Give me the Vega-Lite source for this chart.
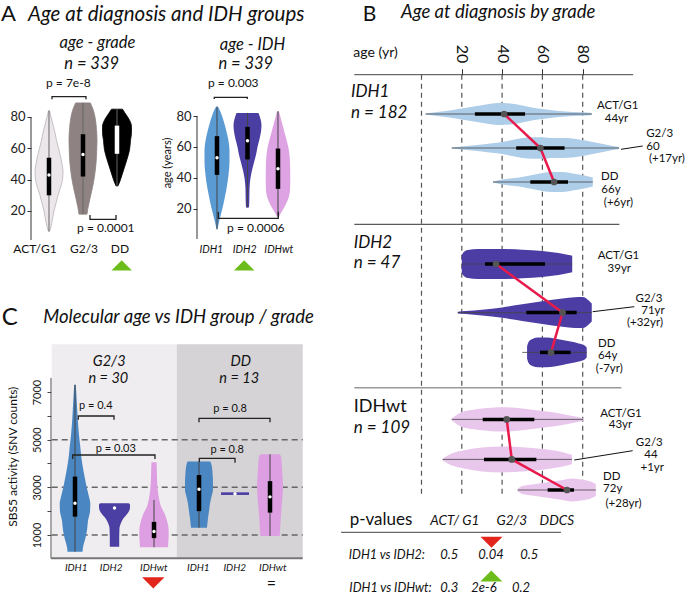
{
"$schema":"https://vega.github.io/schema/vega-lite/v6.json",
"padding":0,
"background":"#ffffff",
"spacing":0,
"bounds":"full",
"resolve":{"scale":{"fill":"independent","color":"independent","stroke":"independent"}},
"config":{"view":{"stroke":null},"axis":{"labelFont":"Lato","titleFont":"Lato"},"text":{"font":"Lato"}},
"datasets":{
"vA1":[
{"g":"ACT/G1","y":84,"lo":0.985,"hi":1.015},{"g":"ACT/G1","y":80,"lo":0.941,"hi":1.059},{"g":"ACT/G1","y":75,"lo":0.882,"hi":1.118},{"g":"ACT/G1","y":70,"lo":0.824,"hi":1.176},{"g":"ACT/G1","y":65,"lo":0.779,"hi":1.221},{"g":"ACT/G1","y":60,"lo":0.721,"hi":1.279},{"g":"ACT/G1","y":55,"lo":0.662,"hi":1.338},{"g":"ACT/G1","y":50,"lo":0.618,"hi":1.382},{"g":"ACT/G1","y":45,"lo":0.588,"hi":1.412},{"g":"ACT/G1","y":40,"lo":0.603,"hi":1.397},{"g":"ACT/G1","y":35,"lo":0.662,"hi":1.338},{"g":"ACT/G1","y":30,"lo":0.735,"hi":1.265},{"g":"ACT/G1","y":25,"lo":0.794,"hi":1.206},{"g":"ACT/G1","y":20,"lo":0.853,"hi":1.147},{"g":"ACT/G1","y":15,"lo":0.897,"hi":1.103},{"g":"ACT/G1","y":10,"lo":0.941,"hi":1.059},{"g":"ACT/G1","y":7,"lo":0.985,"hi":1.015},
{"g":"G2/3","y":89,"lo":1.785,"hi":2.215},{"g":"G2/3","y":85,"lo":1.706,"hi":2.294},{"g":"G2/3","y":80,"lo":1.647,"hi":2.353},{"g":"G2/3","y":72,"lo":1.603,"hi":2.397},{"g":"G2/3","y":65,"lo":1.588,"hi":2.412},{"g":"G2/3","y":58,"lo":1.597,"hi":2.403},{"g":"G2/3","y":50,"lo":1.618,"hi":2.382},{"g":"G2/3","y":43,"lo":1.656,"hi":2.344},{"g":"G2/3","y":35,"lo":1.721,"hi":2.279},{"g":"G2/3","y":28,"lo":1.794,"hi":2.206},{"g":"G2/3","y":22,"lo":1.853,"hi":2.147},{"g":"G2/3","y":18,"lo":1.882,"hi":2.118},
{"g":"DD","y":85,"lo":2.838,"hi":3.162},{"g":"DD","y":82,"lo":2.75,"hi":3.25},{"g":"DD","y":78,"lo":2.632,"hi":3.368},{"g":"DD","y":74,"lo":2.574,"hi":3.426},{"g":"DD","y":70,"lo":2.574,"hi":3.426},{"g":"DD","y":65,"lo":2.603,"hi":3.397},{"g":"DD","y":59,"lo":2.632,"hi":3.368},{"g":"DD","y":53,"lo":2.706,"hi":3.294},{"g":"DD","y":48,"lo":2.779,"hi":3.221},{"g":"DD","y":43,"lo":2.853,"hi":3.147},{"g":"DD","y":40,"lo":2.897,"hi":3.103},{"g":"DD","y":36,"lo":2.971,"hi":3.029}
],
"bA1":[
{"g":"ACT/G1","x":1,"mn":7,"q1":30,"md":43,"q3":54,"mx":84},
{"g":"G2/3","x":2,"mn":18,"q1":42,"md":56,"q3":69,"mx":89},
{"g":"DD","x":3,"mn":36,"q1":56.5,"md":65,"q3":74.5,"mx":85}
],
"vA2":[
{"g":"IDH1","y":86,"lo":0.967,"hi":1.033},{"g":"IDH1","y":82,"lo":0.869,"hi":1.131},{"g":"IDH1","y":76,"lo":0.77,"hi":1.23},{"g":"IDH1","y":70,"lo":0.689,"hi":1.311},{"g":"IDH1","y":64,"lo":0.623,"hi":1.377},{"g":"IDH1","y":58,"lo":0.59,"hi":1.41},{"g":"IDH1","y":50,"lo":0.59,"hi":1.41},{"g":"IDH1","y":42,"lo":0.623,"hi":1.377},{"g":"IDH1","y":35,"lo":0.672,"hi":1.328},{"g":"IDH1","y":28,"lo":0.738,"hi":1.262},{"g":"IDH1","y":22,"lo":0.803,"hi":1.197},{"g":"IDH1","y":18,"lo":0.852,"hi":1.148},{"g":"IDH1","y":14,"lo":0.902,"hi":1.098},{"g":"IDH1","y":10,"lo":0.951,"hi":1.049},{"g":"IDH1","y":7,"lo":0.984,"hi":1.016},
{"g":"IDH2","y":82,"lo":1.639,"hi":2.361},{"g":"IDH2","y":78,"lo":1.574,"hi":2.426},{"g":"IDH2","y":74,"lo":1.541,"hi":2.459},{"g":"IDH2","y":70,"lo":1.557,"hi":2.443},{"g":"IDH2","y":65,"lo":1.607,"hi":2.393},{"g":"IDH2","y":60,"lo":1.672,"hi":2.328},{"g":"IDH2","y":55,"lo":1.721,"hi":2.279},{"g":"IDH2","y":50,"lo":1.787,"hi":2.213},{"g":"IDH2","y":45,"lo":1.852,"hi":2.148},{"g":"IDH2","y":40,"lo":1.902,"hi":2.098},{"g":"IDH2","y":33,"lo":1.934,"hi":2.066},{"g":"IDH2","y":25,"lo":1.941,"hi":2.059},{"g":"IDH2","y":21,"lo":1.951,"hi":2.049},
{"g":"IDHwt","y":83,"lo":2.967,"hi":3.033},{"g":"IDHwt","y":78,"lo":2.902,"hi":3.098},{"g":"IDHwt","y":72,"lo":2.82,"hi":3.18},{"g":"IDHwt","y":66,"lo":2.738,"hi":3.262},{"g":"IDHwt","y":60,"lo":2.662,"hi":3.338},{"g":"IDHwt","y":55,"lo":2.623,"hi":3.377},{"g":"IDHwt","y":50,"lo":2.607,"hi":3.393},{"g":"IDHwt","y":40,"lo":2.597,"hi":3.403},{"g":"IDHwt","y":32,"lo":2.607,"hi":3.393},{"g":"IDHwt","y":27,"lo":2.656,"hi":3.344},{"g":"IDHwt","y":22,"lo":2.77,"hi":3.23},{"g":"IDHwt","y":18,"lo":2.885,"hi":3.115},{"g":"IDHwt","y":15,"lo":2.967,"hi":3.033}
],
"bA2":[
{"g":"IDH1","x":1,"mn":7,"q1":42,"md":53,"q3":67,"mx":86},
{"g":"IDH2","x":2,"mn":21,"q1":52,"md":64,"q3":73,"mx":82},
{"g":"IDHwt","x":3,"mn":15,"q1":33,"md":46,"q3":59,"mx":83}
],
"brA1":[
{"id":1,"o":1,"x":1.088,"y":91.3},{"id":1,"o":2,"x":1.088,"y":92.96},{"id":1,"o":3,"x":2.088,"y":92.96},{"id":1,"o":4,"x":2.088,"y":91.3},
{"id":2,"o":1,"x":2.206,"y":17.45},{"id":2,"o":2,"x":2.206,"y":14.7},{"id":2,"o":3,"x":2.971,"y":14.7},{"id":2,"o":4,"x":2.971,"y":17.45}
],
"brA2":[
{"id":1,"o":1,"x":0.911,"y":91.0},{"id":1,"o":2,"x":0.911,"y":92.06},{"id":1,"o":3,"x":1.993,"y":92.06},{"id":1,"o":4,"x":1.993,"y":91.0},
{"id":2,"o":1,"x":1.043,"y":18.3},{"id":2,"o":2,"x":1.043,"y":14.0},{"id":2,"o":3,"x":3.01,"y":14.0},{"id":2,"o":4,"x":3.01,"y":18.3}
],
"tA1":[
{"t":"A","x":-0.412,"y":141.3,"k":"L"},
{"t":"Age at diagnosis and IDH groups","x":0.382,"y":141.5,"k":"T"},
{"t":"age - grade","x":2.426,"y":123.85,"k":"S"},
{"t":"n = 339","x":2.255,"y":110.6,"k":"S"},
{"t":"p = 7e-8","x":1.569,"y":98.96,"k":"P"},
{"t":"p = 0.0001","x":2.672,"y":6.4,"k":"P"},
{"t":"ACT/G1","x":0.588,"y":-7.0,"k":"P"},
{"t":"G2/3","x":2.029,"y":-7.0,"k":"P"},
{"t":"DD","x":3.088,"y":-7.0,"k":"P"}
],
"tA2":[
{"t":"age - IDH","x":2.164,"y":122.6,"k":"S"},
{"t":"n = 339","x":1.945,"y":110.3,"k":"S"},
{"t":"p = 0.003","x":1.535,"y":98.5,"k":"P"},
{"t":"p = 0.0006","x":2.273,"y":4.97,"k":"P"},
{"t":"IDH1","x":0.813,"y":-8.6,"k":"X"},
{"t":"IDH2","x":1.908,"y":-8.6,"k":"X"},
{"t":"IDHwt","x":3.026,"y":-8.6,"k":"X"},
{"t":"age (years)","x":-0.607,"y":49.7,"k":"Y"}
],
"triA1":[{"x":3.138,"y":-14.7}],
"triA2":[{"x":1.892,"y":-16.3}],
"vC":[
{"v":"a1","g":"IDH1","y":7300,"lo":0.98,"hi":1.02},{"v":"a1","g":"IDH1","y":6800,"lo":0.962,"hi":1.038},{"v":"a1","g":"IDH1","y":6200,"lo":0.942,"hi":1.058},{"v":"a1","g":"IDH1","y":5700,"lo":0.924,"hi":1.076},{"v":"a1","g":"IDH1","y":5200,"lo":0.899,"hi":1.101},{"v":"a1","g":"IDH1","y":4700,"lo":0.866,"hi":1.134},{"v":"a1","g":"IDH1","y":4200,"lo":0.835,"hi":1.165},{"v":"a1","g":"IDH1","y":3800,"lo":0.797,"hi":1.203},{"v":"a1","g":"IDH1","y":3400,"lo":0.752,"hi":1.248},{"v":"a1","g":"IDH1","y":3000,"lo":0.704,"hi":1.296},{"v":"a1","g":"IDH1","y":2600,"lo":0.646,"hi":1.354},{"v":"a1","g":"IDH1","y":2300,"lo":0.613,"hi":1.387},{"v":"a1","g":"IDH1","y":2000,"lo":0.62,"hi":1.38},{"v":"a1","g":"IDH1","y":1600,"lo":0.671,"hi":1.329},{"v":"a1","g":"IDH1","y":1200,"lo":0.696,"hi":1.304},{"v":"a1","g":"IDH1","y":800,"lo":0.747,"hi":1.253},{"v":"a1","g":"IDH1","y":500,"lo":0.797,"hi":1.203},{"v":"a1","g":"IDH1","y":300,"lo":0.81,"hi":1.19},
{"v":"a2","g":"IDH2","y":2330,"lo":1.646,"hi":2.354},{"v":"a2","g":"IDH2","y":2280,"lo":1.608,"hi":2.392},{"v":"a2","g":"IDH2","y":2150,"lo":1.608,"hi":2.392},{"v":"a2","g":"IDH2","y":2000,"lo":1.633,"hi":2.367},{"v":"a2","g":"IDH2","y":1850,"lo":1.696,"hi":2.304},{"v":"a2","g":"IDH2","y":1750,"lo":1.747,"hi":2.253},{"v":"a2","g":"IDH2","y":1600,"lo":1.81,"hi":2.19},{"v":"a2","g":"IDH2","y":1450,"lo":1.848,"hi":2.152},{"v":"a2","g":"IDH2","y":1300,"lo":1.873,"hi":2.127},{"v":"a2","g":"IDH2","y":1100,"lo":1.878,"hi":2.122},{"v":"a2","g":"IDH2","y":800,"lo":1.881,"hi":2.119},{"v":"a2","g":"IDH2","y":510,"lo":1.881,"hi":2.119},
{"v":"a3","g":"IDHwt","y":4050,"lo":2.937,"hi":3.063},{"v":"a3","g":"IDHwt","y":3800,"lo":2.929,"hi":3.071},{"v":"a3","g":"IDHwt","y":3400,"lo":2.924,"hi":3.076},{"v":"a3","g":"IDHwt","y":3000,"lo":2.911,"hi":3.089},{"v":"a3","g":"IDHwt","y":2600,"lo":2.88,"hi":3.12},{"v":"a3","g":"IDHwt","y":2200,"lo":2.823,"hi":3.177},{"v":"a3","g":"IDHwt","y":1900,"lo":2.734,"hi":3.266},{"v":"a3","g":"IDHwt","y":1600,"lo":2.671,"hi":3.329},{"v":"a3","g":"IDHwt","y":1300,"lo":2.633,"hi":3.367},{"v":"a3","g":"IDHwt","y":1000,"lo":2.628,"hi":3.372},{"v":"a3","g":"IDHwt","y":700,"lo":2.638,"hi":3.362},{"v":"a3","g":"IDHwt","y":490,"lo":2.646,"hi":3.354},
{"v":"d1","g":"IDH1","y":4080,"lo":3.848,"hi":4.43},{"v":"d1","g":"IDH1","y":3900,"lo":3.815,"hi":4.463},{"v":"d1","g":"IDH1","y":3600,"lo":3.797,"hi":4.481},{"v":"d1","g":"IDH1","y":3200,"lo":3.785,"hi":4.493},{"v":"d1","g":"IDH1","y":2900,"lo":3.785,"hi":4.493},{"v":"d1","g":"IDH1","y":2600,"lo":3.823,"hi":4.455},{"v":"d1","g":"IDH1","y":2300,"lo":3.861,"hi":4.417},{"v":"d1","g":"IDH1","y":2000,"lo":3.886,"hi":4.392},{"v":"d1","g":"IDH1","y":1700,"lo":3.911,"hi":4.367},{"v":"d1","g":"IDH1","y":1300,"lo":3.936,"hi":4.342},
{"v":"d2","g":"IDH2","y":2680,"lo":4.697,"hi":5.405},{"v":"d2","g":"IDH2","y":2790,"lo":4.697,"hi":5.405},
{"v":"d3","g":"IDHwt","y":4390,"lo":5.696,"hi":6.178},{"v":"d3","g":"IDHwt","y":4300,"lo":5.659,"hi":6.215},{"v":"d3","g":"IDHwt","y":4000,"lo":5.641,"hi":6.233},{"v":"d3","g":"IDHwt","y":3500,"lo":5.621,"hi":6.253},{"v":"d3","g":"IDHwt","y":3000,"lo":5.608,"hi":6.266},{"v":"d3","g":"IDHwt","y":2600,"lo":5.621,"hi":6.253},{"v":"d3","g":"IDHwt","y":2200,"lo":5.641,"hi":6.233},{"v":"d3","g":"IDHwt","y":1800,"lo":5.659,"hi":6.215},{"v":"d3","g":"IDHwt","y":1400,"lo":5.676,"hi":6.198},{"v":"d3","g":"IDHwt","y":960,"lo":5.691,"hi":6.183}
],
"bC":[
{"v":"a1","x":1,"mn":300,"q1":1770,"md":2330,"q3":3450,"mx":7300},
{"v":"a2","x":2,"mn":2130,"q1":2130,"md":2130,"q3":2130,"mx":2130},
{"v":"a3","x":3,"mn":490,"q1":870,"md":1150,"q3":1550,"mx":2470},
{"v":"d1","x":4.139,"mn":1300,"q1":2000,"md":2917,"q3":3517,"mx":4080},
{"v":"d2","x":5.051,"mn":2735,"q1":2735,"md":2735,"q3":2735,"mx":2735},
{"v":"d3","x":5.937,"mn":960,"q1":1940,"md":2600,"q3":3260,"mx":4390}
],
"hC":[{"v":1000},{"v":3000},{"v":5000}],
"brC":[
{"id":1,"o":1,"x":1.084,"y":5838},{"id":1,"o":2,"x":1.084,"y":5993},{"id":1,"o":3,"x":1.987,"y":5993},{"id":1,"o":4,"x":1.987,"y":5838},
{"id":2,"o":1,"x":0.942,"y":4189},{"id":2,"o":2,"x":0.942,"y":4356},{"id":2,"o":3,"x":3.025,"y":4356},{"id":2,"o":4,"x":3.025,"y":4189},
{"id":3,"o":1,"x":4.139,"y":5728},{"id":3,"o":2,"x":4.139,"y":5896},{"id":3,"o":3,"x":5.937,"y":5896},{"id":3,"o":4,"x":5.937,"y":5728},
{"id":4,"o":1,"x":4.147,"y":4063},{"id":4,"o":2,"x":4.147,"y":4218},{"id":4,"o":3,"x":5.051,"y":4218},{"id":4,"o":4,"x":5.051,"y":4030}
],
"tC":[
{"t":"C","x":-0.856,"y":9811,"k":"L"},
{"t":"Molecular age vs IDH group / grade","x":0.197,"y":9883,"k":"T"},
{"t":"G2/3","x":1.866,"y":8080,"k":"S"},
{"t":"n = 30","x":1.844,"y":7390,"k":"S"},
{"t":"DD","x":5.198,"y":8080,"k":"S"},
{"t":"n = 13","x":5.157,"y":7390,"k":"S"},
{"t":"p = 0.4","x":1.527,"y":6287,"k":"P"},
{"t":"p = 0.03","x":2.033,"y":4495,"k":"P"},
{"t":"p = 0.8","x":4.924,"y":6148,"k":"P"},
{"t":"p = 0.8","x":4.853,"y":4453,"k":"P"},
{"t":"IDH1","x":1.03,"y":-498,"k":"X"},
{"t":"IDH2","x":1.916,"y":-498,"k":"X"},
{"t":"IDHwt","x":2.995,"y":-498,"k":"X"},
{"t":"IDH1","x":4.122,"y":-498,"k":"X"},
{"t":"IDH2","x":5.043,"y":-498,"k":"X"},
{"t":"IDHwt","x":6.008,"y":-498,"k":"X"},
{"t":"SBS5 activity (SNV counts)","x":-0.562,"y":4285,"k":"Y"},
{"t":"=","x":5.97,"y":-1040,"k":"E"}
],
"triC":[{"x":2.982,"y":-1006}],
"vB":[
{"v":"1A","g":"IDH1","a":2,"lo":56.75,"hi":57.25},{"v":"1A","g":"IDH1","a":8,"lo":56,"hi":58},{"v":"1A","g":"IDH1","a":14,"lo":55.25,"hi":58.75},{"v":"1A","g":"IDH1","a":20,"lo":54.25,"hi":59.75},{"v":"1A","g":"IDH1","a":26,"lo":53.25,"hi":60.75},{"v":"1A","g":"IDH1","a":32,"lo":52.25,"hi":61.75},{"v":"1A","g":"IDH1","a":38,"lo":51.5,"hi":62.5},{"v":"1A","g":"IDH1","a":44,"lo":51.75,"hi":62.25},{"v":"1A","g":"IDH1","a":50,"lo":52.75,"hi":61.25},{"v":"1A","g":"IDH1","a":56,"lo":54,"hi":60},{"v":"1A","g":"IDH1","a":62,"lo":54.75,"hi":59.25},{"v":"1A","g":"IDH1","a":68,"lo":55.5,"hi":58.5},{"v":"1A","g":"IDH1","a":75,"lo":56,"hi":58},{"v":"1A","g":"IDH1","a":82,"lo":56.25,"hi":57.75},{"v":"1A","g":"IDH1","a":84.5,"lo":56.5,"hi":57.5},
{"v":"1G","g":"IDH1","a":15,"lo":73.75,"hi":74.25},{"v":"1G","g":"IDH1","a":20,"lo":73.25,"hi":74.75},{"v":"1G","g":"IDH1","a":25,"lo":72.75,"hi":75.25},{"v":"1G","g":"IDH1","a":30,"lo":72.25,"hi":75.75},{"v":"1G","g":"IDH1","a":35,"lo":71.6,"hi":76.4},{"v":"1G","g":"IDH1","a":40,"lo":71,"hi":77},{"v":"1G","g":"IDH1","a":45,"lo":70,"hi":78},{"v":"1G","g":"IDH1","a":50,"lo":69,"hi":79},{"v":"1G","g":"IDH1","a":55,"lo":68.65,"hi":79.35},{"v":"1G","g":"IDH1","a":60,"lo":68.6,"hi":79.4},{"v":"1G","g":"IDH1","a":65,"lo":69,"hi":79},{"v":"1G","g":"IDH1","a":70,"lo":69,"hi":79},{"v":"1G","g":"IDH1","a":75,"lo":69.25,"hi":78.75},{"v":"1G","g":"IDH1","a":80,"lo":70,"hi":78},{"v":"1G","g":"IDH1","a":85,"lo":71,"hi":77},{"v":"1G","g":"IDH1","a":90,"lo":72,"hi":76},{"v":"1G","g":"IDH1","a":95,"lo":73,"hi":75},{"v":"1G","g":"IDH1","a":98,"lo":73.5,"hi":74.5},
{"v":"1D","g":"IDH1","a":35.5,"lo":90.75,"hi":91.25},{"v":"1D","g":"IDH1","a":40,"lo":89.75,"hi":92.25},{"v":"1D","g":"IDH1","a":45,"lo":89.1,"hi":92.9},{"v":"1D","g":"IDH1","a":50,"lo":88.5,"hi":93.5},{"v":"1D","g":"IDH1","a":55,"lo":87.5,"hi":94.5},{"v":"1D","g":"IDH1","a":60,"lo":86.5,"hi":95.5},{"v":"1D","g":"IDH1","a":65,"lo":86,"hi":96},{"v":"1D","g":"IDH1","a":70,"lo":86,"hi":96},{"v":"1D","g":"IDH1","a":75,"lo":86.75,"hi":95.25},{"v":"1D","g":"IDH1","a":80,"lo":87.6,"hi":94.4},{"v":"1D","g":"IDH1","a":83,"lo":88.25,"hi":93.75},{"v":"1D","g":"IDH1","a":85,"lo":88.75,"hi":93.25},
{"v":"2A","g":"IDH2","a":20,"lo":127.5,"hi":136.5},{"v":"2A","g":"IDH2","a":21,"lo":126,"hi":138},{"v":"2A","g":"IDH2","a":23,"lo":125,"hi":139},{"v":"2A","g":"IDH2","a":28,"lo":124.5,"hi":139.5},{"v":"2A","g":"IDH2","a":40,"lo":124.5,"hi":139.5},{"v":"2A","g":"IDH2","a":50,"lo":124.9,"hi":139.1},{"v":"2A","g":"IDH2","a":60,"lo":125.5,"hi":138.5},{"v":"2A","g":"IDH2","a":66,"lo":126.25,"hi":137.75},{"v":"2A","g":"IDH2","a":70,"lo":126.85,"hi":137.15},{"v":"2A","g":"IDH2","a":74.8,"lo":127.85,"hi":136.15},
{"v":"2G","g":"IDH2","a":18,"lo":155.9,"hi":156.7},{"v":"2G","g":"IDH2","a":22,"lo":155.55,"hi":157.05},{"v":"2G","g":"IDH2","a":30,"lo":154.9,"hi":157.7},{"v":"2G","g":"IDH2","a":40,"lo":153.7,"hi":158.9},{"v":"2G","g":"IDH2","a":50,"lo":152.15,"hi":160.45},{"v":"2G","g":"IDH2","a":60,"lo":150.65,"hi":161.95},{"v":"2G","g":"IDH2","a":70,"lo":149.2,"hi":163.4},{"v":"2G","g":"IDH2","a":76,"lo":148.65,"hi":163.95},{"v":"2G","g":"IDH2","a":80,"lo":148.55,"hi":164.05},{"v":"2G","g":"IDH2","a":83,"lo":150.3,"hi":162.3},{"v":"2G","g":"IDH2","a":84.5,"lo":151.8,"hi":160.8},
{"v":"2D","g":"IDH2","a":52.4,"lo":173.2,"hi":179.2},{"v":"2D","g":"IDH2","a":53,"lo":171.2,"hi":181.2},{"v":"2D","g":"IDH2","a":55,"lo":169.45,"hi":182.95},{"v":"2D","g":"IDH2","a":58,"lo":168.8,"hi":183.6},{"v":"2D","g":"IDH2","a":62,"lo":168.8,"hi":183.6},{"v":"2D","g":"IDH2","a":66,"lo":169.2,"hi":183.2},{"v":"2D","g":"IDH2","a":70,"lo":169.95,"hi":182.45},{"v":"2D","g":"IDH2","a":74,"lo":170.8,"hi":181.6},{"v":"2D","g":"IDH2","a":78,"lo":171.7,"hi":180.7},{"v":"2D","g":"IDH2","a":81,"lo":172.7,"hi":179.7},{"v":"2D","g":"IDH2","a":82,"lo":173.7,"hi":178.7},
{"v":"wA","g":"IDHwt","a":15,"lo":209.2,"hi":210.2},{"v":"wA","g":"IDHwt","a":17,"lo":207.7,"hi":211.7},{"v":"wA","g":"IDHwt","a":20,"lo":205.95,"hi":213.45},{"v":"wA","g":"IDHwt","a":25,"lo":204.95,"hi":214.45},{"v":"wA","g":"IDHwt","a":30,"lo":204.3,"hi":215.1},{"v":"wA","g":"IDHwt","a":40,"lo":203.6,"hi":215.8},{"v":"wA","g":"IDHwt","a":50,"lo":204.3,"hi":215.1},{"v":"wA","g":"IDHwt","a":60,"lo":205.55,"hi":213.85},{"v":"wA","g":"IDHwt","a":70,"lo":206.95,"hi":212.45},{"v":"wA","g":"IDHwt","a":75,"lo":207.95,"hi":211.45},{"v":"wA","g":"IDHwt","a":80,"lo":208.95,"hi":210.45},
{"v":"wG","g":"IDHwt","a":10.5,"lo":229.2,"hi":230.2},{"v":"wG","g":"IDHwt","a":13,"lo":227.7,"hi":231.7},{"v":"wG","g":"IDHwt","a":16,"lo":226.35,"hi":233.05},{"v":"wG","g":"IDHwt","a":20,"lo":225.35,"hi":234.05},{"v":"wG","g":"IDHwt","a":30,"lo":223.7,"hi":235.7},{"v":"wG","g":"IDHwt","a":40,"lo":223.2,"hi":236.2},{"v":"wG","g":"IDHwt","a":50,"lo":223.6,"hi":235.8},{"v":"wG","g":"IDHwt","a":60,"lo":224.55,"hi":234.85},{"v":"wG","g":"IDHwt","a":70,"lo":226.1,"hi":233.3},{"v":"wG","g":"IDHwt","a":74.7,"lo":227.45,"hi":231.95},
{"v":"wD","g":"IDHwt","a":47.7,"lo":244.5,"hi":245.5},{"v":"wD","g":"IDHwt","a":50,"lo":243,"hi":247},{"v":"wD","g":"IDHwt","a":55,"lo":242.25,"hi":247.75},{"v":"wD","g":"IDHwt","a":60,"lo":241.5,"hi":248.5},{"v":"wD","g":"IDHwt","a":65,"lo":240.75,"hi":249.25},{"v":"wD","g":"IDHwt","a":70,"lo":240,"hi":250},{"v":"wD","g":"IDHwt","a":75,"lo":239.25,"hi":250.75},{"v":"wD","g":"IDHwt","a":80,"lo":239.85,"hi":250.15},{"v":"wD","g":"IDHwt","a":84,"lo":240.75,"hi":249.25},{"v":"wD","g":"IDHwt","a":86.5,"lo":242,"hi":248}
],
"bB":[
{"v":"1A","s":1,"r":1,"yc":57,"mn":2,"q1":26.5,"md":41,"q3":51.4,"mx":84.5},
{"v":"1G","s":1,"r":2,"yc":74,"mn":15,"q1":47,"md":59,"q3":71,"mx":98},
{"v":"1D","s":1,"r":3,"yc":91,"mn":35.5,"q1":54,"md":65.8,"q3":72.7,"mx":85},
{"v":"2A","s":2,"r":1,"yc":132,"mn":20,"q1":31.5,"md":37,"q3":61.3,"mx":74.8},
{"v":"2G","s":2,"r":2,"yc":156.3,"mn":18,"q1":52,"md":70,"q3":77,"mx":84.5},
{"v":"2D","s":2,"r":3,"yc":176.2,"mn":50,"q1":58.8,"md":64.3,"q3":74,"mx":82},
{"v":"wA","s":3,"r":1,"yc":209.7,"mn":15,"q1":30.4,"md":42.3,"q3":56,"mx":80},
{"v":"wG","s":3,"r":2,"yc":229.7,"mn":10.5,"q1":31,"md":44.8,"q3":57,"mx":74.7},
{"v":"wD","s":3,"r":3,"yc":245,"mn":47.7,"q1":62.6,"md":72.2,"q3":75.7,"mx":86.5}
],
"lB":[
{"id":1,"o":1,"x":99.0,"y":74.65},{"id":1,"o":2,"x":109.8,"y":73},
{"id":2,"o":1,"x":84.96,"y":155.85},{"id":2,"o":2,"x":105.6,"y":153.35},
{"id":3,"o":1,"x":75.83,"y":230},{"id":3,"o":2,"x":104.8,"y":225.35}
],
"dB":[{"a":0},{"a":20},{"a":40},{"a":60},{"a":80}],
"tB":[
{"t":"B","x":-29.18,"y":10.35,"k":"L"},
{"t":"Age at diagnosis by grade","x":-10.17,"y":9.0,"k":"T"},
{"t":"age (yr)","x":-33.85,"y":28.65,"k":"A"},
{"t":"IDH1","x":-34.99,"y":48.35,"k":"S"},
{"t":"n = 182","x":-34.99,"y":59.15,"k":"S"},
{"t":"IDH2","x":-33.65,"y":124.15,"k":"S"},
{"t":"n = 47","x":-33.65,"y":134.15,"k":"S"},
{"t":"IDHwt","x":-33.65,"y":205.85,"k":"W"},
{"t":"n = 109","x":-33.65,"y":216.35,"k":"S"},
{"t":"ACT/G1","x":97.37,"y":54.5,"k":"R"},
{"t":"44yr","x":96.77,"y":60.85,"k":"R"},
{"t":"G2/3","x":118.2,"y":68.35,"k":"R"},
{"t":"60","x":114.9,"y":74.75,"k":"R"},
{"t":"(+17yr)","x":121.8,"y":80.75,"k":"R"},
{"t":"DD","x":93.4,"y":90,"k":"R"},
{"t":"66y","x":94.04,"y":96.35,"k":"R"},
{"t":"(+6yr)","x":97.77,"y":103,"k":"R"},
{"t":"ACT/G1","x":97.77,"y":129.5,"k":"R"},
{"t":"39yr","x":98.16,"y":135.85,"k":"R"},
{"t":"G2/3","x":112.9,"y":150.85,"k":"R"},
{"t":"71yr","x":114.9,"y":157,"k":"R"},
{"t":"(+32yr)","x":110.9,"y":163,"k":"R"},
{"t":"DD","x":91.96,"y":173.65,"k":"R"},
{"t":"64y","x":92.4,"y":179.5,"k":"R"},
{"t":"(-7yr)","x":93.2,"y":185.85,"k":"R"},
{"t":"ACT/G1","x":99.0,"y":208.35,"k":"R"},
{"t":"43yr","x":98.76,"y":214.15,"k":"R"},
{"t":"G2/3","x":113.05,"y":222.85,"k":"R"},
{"t":"44","x":113.9,"y":229.15,"k":"R"},
{"t":"+1yr","x":114.5,"y":235.35,"k":"R"},
{"t":"DD","x":94.44,"y":240,"k":"R"},
{"t":"72y","x":94.89,"y":246.15,"k":"R"},
{"t":"(+28yr)","x":100.25,"y":253.35,"k":"R"},
{"t":"p-values","x":-20.1,"y":262.5,"k":"H"},
{"t":"ACT/ G1","x":16.53,"y":262.5,"k":"Hi"},
{"t":"G2/3","x":44.8,"y":262.5,"k":"Hi"},
{"t":"DDCS","x":67.15,"y":262.5,"k":"Hi"},
{"t":"IDH1 vs IDH2:","x":1.7,"y":279.65,"k":"Q"},
{"t":"0.5","x":13.8,"y":279.65,"k":"V"},
{"t":"0.04","x":34.49,"y":279.65,"k":"V"},
{"t":"0.5","x":53.5,"y":279.65,"k":"V"},
{"t":"IDH1 vs IDHwt:","x":5.0,"y":295.85,"k":"Q"},
{"t":"0.3","x":13.8,"y":295.85,"k":"V"},
{"t":"2e-6","x":30.99,"y":295.85,"k":"V"},
{"t":"0.2","x":49.4,"y":295.85,"k":"V"}
],
"triBr":[{"x":34.74,"y":271.15}],
"triBg":[{"x":34.64,"y":288}]
},
"hconcat":[
{"vconcat":[
{"hconcat":[
{"width":170,"height":290,
"encoding":{
"x":{"type":"quantitative","scale":{"domain":[-0.441,4.559],"nice":false,"zero":false},"axis":null},
"y":{"type":"quantitative","scale":{"domain":[-30.43,154.68],"nice":false,"zero":false},"axis":{"values":[20,40,60,80],"offset":-31,"domain":false,"grid":false,"tickSize":4,"tickColor":"#333","labelFontSize":13,"labelColor":"#222","labelPadding":2,"title":null}}
},
"layer":[
{"data":{"values":[{}]},"mark":{"type":"rect","opacity":0},"encoding":{"x":{"datum":-0.441},"x2":{"datum":4.559},"y":{"datum":-30.43},"y2":{"datum":154.68}}},
{"data":{"values":[{}]},"mark":{"type":"rule","color":"#333","strokeWidth":1},"encoding":{"x":{"datum":0.471},"y":{"datum":1.5},"y2":{"datum":80}}},
{"data":{"name":"vA1"},"mark":{"type":"area","orient":"horizontal","interpolate":"monotone","strokeWidth":0.8},"encoding":{"y":{"field":"y"},"x":{"field":"lo"},"x2":{"field":"hi"},"fill":{"field":"g","type":"nominal","scale":{"domain":["ACT/G1","G2/3","DD"],"range":["#ebe7eb","#8e8282","#000000"]},"legend":null},"stroke":{"field":"g","type":"nominal","scale":{"domain":["ACT/G1","G2/3","DD"],"range":["#b8b3b8","#8e8282","#000000"]},"legend":null}}},
{"data":{"name":"bA1"},"mark":{"type":"rule","color":"#666","strokeWidth":1},"encoding":{"x":{"field":"x"},"y":{"field":"mn"},"y2":{"field":"mx"}}},
{"data":{"name":"bA1"},"mark":{"type":"rule","strokeWidth":4.5},"encoding":{"x":{"field":"x"},"y":{"field":"q1"},"y2":{"field":"q3"},"color":{"field":"g","type":"nominal","scale":{"domain":["ACT/G1","G2/3","DD"],"range":["#000000","#000000","#ffffff"]},"legend":null}}},
{"data":{"name":"bA1"},"mark":{"type":"point","filled":true,"color":"#ffffff","size":12,"opacity":1},"encoding":{"x":{"field":"x"},"y":{"field":"md"}}},
{"data":{"name":"brA1"},"mark":{"type":"line","color":"#222","strokeWidth":1.3},"encoding":{"x":{"field":"x"},"y":{"field":"y"},"detail":{"field":"id"},"order":{"field":"o","type":"quantitative"}}},
{"data":{"name":"tA1"},"transform":[{"filter":"datum.k=='L'"}],"mark":{"type":"text","font":"Lato","fontSize":22,"align":"left","baseline":"alphabetic","color":"#111"},"encoding":{"x":{"field":"x"},"y":{"field":"y"},"text":{"field":"t"}}},
{"data":{"name":"tA1"},"transform":[{"filter":"datum.k=='T'"}],"mark":{"type":"text","font":"Lato","fontStyle":"italic","fontSize":20.5,"align":"left","baseline":"alphabetic","color":"#111"},"encoding":{"x":{"field":"x"},"y":{"field":"y"},"text":{"field":"t"}}},
{"data":{"name":"tA1"},"transform":[{"filter":"datum.k=='S'"}],"mark":{"type":"text","font":"Lato","fontStyle":"italic","fontSize":16.5,"align":"center","baseline":"alphabetic","color":"#111"},"encoding":{"x":{"field":"x"},"y":{"field":"y"},"text":{"field":"t"}}},
{"data":{"name":"tA1"},"transform":[{"filter":"datum.k=='P'"}],"mark":{"type":"text","font":"Lato","fontSize":12,"align":"center","baseline":"alphabetic","color":"#111"},"encoding":{"x":{"field":"x"},"y":{"field":"y"},"text":{"field":"t"}}},
{"data":{"name":"triA1"},"mark":{"type":"point","shape":"M-1,0.5L1,0.5L0,-0.5Z","filled":true,"color":"#6cbd1c","size":420,"opacity":1},"encoding":{"x":{"field":"x"},"y":{"field":"y"}}}
]},
{"width":170,"height":290,
"encoding":{
"x":{"type":"quantitative","scale":{"domain":[-0.541,5.033],"nice":false,"zero":false},"axis":null},
"y":{"type":"quantitative","scale":{"domain":[-32.26,154.84],"nice":false,"zero":false},"axis":{"values":[20,40,60,80],"offset":-27,"domain":false,"grid":false,"tickSize":4,"tickColor":"#333","labelFontSize":13,"labelColor":"#222","labelPadding":2,"title":null}}
},
"layer":[
{"data":{"values":[{}]},"mark":{"type":"rect","opacity":0},"encoding":{"x":{"datum":-0.541},"x2":{"datum":5.033},"y":{"datum":-32.26},"y2":{"datum":154.84}}},
{"data":{"values":[{}]},"mark":{"type":"rule","color":"#333","strokeWidth":1},"encoding":{"x":{"datum":0.344},"y":{"datum":0.65},"y2":{"datum":80}}},
{"data":{"name":"vA2"},"mark":{"type":"area","orient":"horizontal","interpolate":"monotone"},"encoding":{"y":{"field":"y"},"x":{"field":"lo"},"x2":{"field":"hi"},"fill":{"field":"g","type":"nominal","scale":{"domain":["IDH1","IDH2","IDHwt"],"range":["#5b9bd3","#4a3ea3","#dea3e2"]},"legend":null}}},
{"data":{"name":"bA2"},"mark":{"type":"rule","color":"#444","strokeWidth":1},"encoding":{"x":{"field":"x"},"y":{"field":"mn"},"y2":{"field":"mx"}}},
{"data":{"name":"bA2"},"mark":{"type":"rule","color":"#000","strokeWidth":4.5},"encoding":{"x":{"field":"x"},"y":{"field":"q1"},"y2":{"field":"q3"}}},
{"data":{"name":"bA2"},"mark":{"type":"point","filled":true,"color":"#ffffff","size":12,"opacity":1},"encoding":{"x":{"field":"x"},"y":{"field":"md"}}},
{"data":{"name":"brA2"},"mark":{"type":"line","color":"#222","strokeWidth":1.3},"encoding":{"x":{"field":"x"},"y":{"field":"y"},"detail":{"field":"id"},"order":{"field":"o","type":"quantitative"}}},
{"data":{"name":"tA2"},"transform":[{"filter":"datum.k=='S'"}],"mark":{"type":"text","font":"Lato","fontStyle":"italic","fontSize":16.5,"align":"center","baseline":"alphabetic","color":"#111"},"encoding":{"x":{"field":"x"},"y":{"field":"y"},"text":{"field":"t"}}},
{"data":{"name":"tA2"},"transform":[{"filter":"datum.k=='P'"}],"mark":{"type":"text","font":"Lato","fontSize":12,"align":"center","baseline":"alphabetic","color":"#111"},"encoding":{"x":{"field":"x"},"y":{"field":"y"},"text":{"field":"t"}}},
{"data":{"name":"tA2"},"transform":[{"filter":"datum.k=='X'"}],"mark":{"type":"text","font":"Lato","fontStyle":"italic","fontSize":10.5,"align":"center","baseline":"alphabetic","color":"#111"},"encoding":{"x":{"field":"x"},"y":{"field":"y"},"text":{"field":"t"}}},
{"data":{"name":"tA2"},"transform":[{"filter":"datum.k=='Y'"}],"mark":{"type":"text","font":"Lato","fontSize":11,"align":"center","baseline":"middle","angle":270,"color":"#111"},"encoding":{"x":{"field":"x"},"y":{"field":"y"},"text":{"field":"t"}}},
{"data":{"name":"triA2"},"mark":{"type":"point","shape":"M-1,0.5L1,0.5L0,-0.5Z","filled":true,"color":"#6cbd1c","size":420,"opacity":1},"encoding":{"x":{"field":"x"},"y":{"field":"y"}}}
]}
],"spacing":0,"bounds":"flush","resolve":{"scale":{"fill":"independent","color":"independent","stroke":"independent"}}},
{"width":340,"height":304,
"encoding":{
"x":{"type":"quantitative","scale":{"domain":[-0.899,7.709],"nice":false,"zero":false},"axis":null},
"y":{"type":"quantitative","scale":{"domain":[-1476,11280],"nice":false,"zero":false},"axis":{"values":[1000,2000,3000,4000,5000,6000,7000],"labelExpr":"datum.value % 2000 == 1000 ? datum.label : ''","format":"d","offset":-51,"domain":false,"grid":false,"tickSize":4,"tickColor":"#444","labelFontSize":11,"labelColor":"#222","labelAngle":270,"labelAlign":"center","labelBaseline":"bottom","labelPadding":5,"title":null}}
},
"layer":[
{"data":{"values":[{}]},"mark":{"type":"rect","opacity":0},"encoding":{"x":{"datum":-0.899},"x2":{"datum":7.709},"y":{"datum":-1476},"y2":{"datum":11280}}},
{"data":{"values":[{}]},"mark":{"type":"rect","color":"#efedef"},"encoding":{"x":{"datum":0.41},"x2":{"datum":3.575},"y":{"datum":22},"y2":{"datum":9001}}},
{"data":{"values":[{}]},"mark":{"type":"rect","color":"#d5d3d5"},"encoding":{"x":{"datum":3.575},"x2":{"datum":6.765},"y":{"datum":22},"y2":{"datum":9001}}},
{"data":{"name":"hC"},"mark":{"type":"rule","color":"#666","strokeWidth":1.5,"strokeDash":[6,4]},"encoding":{"x":{"datum":0.41},"x2":{"datum":6.765},"y":{"field":"v"}}},
{"data":{"name":"vC"},"mark":{"type":"area","orient":"horizontal","interpolate":"monotone"},"encoding":{"y":{"field":"y"},"x":{"field":"lo"},"x2":{"field":"hi"},"fill":{"field":"g","type":"nominal","scale":{"domain":["IDH1","IDH2","IDHwt"],"range":["#4a87c2","#4b3fa3","#dd9fe2"]},"legend":null},"detail":{"field":"v"}}},
{"data":{"name":"bC"},"mark":{"type":"rule","color":"#444","strokeWidth":1},"encoding":{"x":{"field":"x"},"y":{"field":"mn"},"y2":{"field":"mx"}}},
{"data":{"name":"bC"},"mark":{"type":"rule","color":"#000","strokeWidth":4.5},"encoding":{"x":{"field":"x"},"y":{"field":"q1"},"y2":{"field":"q3"}}},
{"data":{"name":"bC"},"mark":{"type":"point","filled":true,"color":"#ffffff","size":12,"opacity":1},"encoding":{"x":{"field":"x"},"y":{"field":"md"}}},
{"data":{"values":[{}]},"mark":{"type":"rule","color":"#555","strokeWidth":1},"encoding":{"x":{"datum":0.392},"y":{"datum":22},"y2":{"datum":7590}}},
{"data":{"values":[{}]},"mark":{"type":"rule","color":"#777","strokeWidth":2},"encoding":{"x":{"datum":0.392},"x2":{"datum":6.765},"y":{"datum":22}}},
{"data":{"name":"brC"},"mark":{"type":"line","color":"#222","strokeWidth":1.3},"encoding":{"x":{"field":"x"},"y":{"field":"y"},"detail":{"field":"id"},"order":{"field":"o","type":"quantitative"}}},
{"data":{"name":"tC"},"transform":[{"filter":"datum.k=='L'"}],"mark":{"type":"text","font":"Lato","fontSize":24,"align":"left","baseline":"alphabetic","color":"#111"},"encoding":{"x":{"field":"x"},"y":{"field":"y"},"text":{"field":"t"}}},
{"data":{"name":"tC"},"transform":[{"filter":"datum.k=='T'"}],"mark":{"type":"text","font":"Lato","fontStyle":"italic","fontSize":18.5,"align":"left","baseline":"alphabetic","color":"#111"},"encoding":{"x":{"field":"x"},"y":{"field":"y"},"text":{"field":"t"}}},
{"data":{"name":"tC"},"transform":[{"filter":"datum.k=='S'"}],"mark":{"type":"text","font":"Lato","fontStyle":"italic","fontSize":14.5,"align":"center","baseline":"alphabetic","color":"#111"},"encoding":{"x":{"field":"x"},"y":{"field":"y"},"text":{"field":"t"}}},
{"data":{"name":"tC"},"transform":[{"filter":"datum.k=='P'"}],"mark":{"type":"text","font":"Lato","fontSize":11,"align":"center","baseline":"alphabetic","color":"#111"},"encoding":{"x":{"field":"x"},"y":{"field":"y"},"text":{"field":"t"}}},
{"data":{"name":"tC"},"transform":[{"filter":"datum.k=='X'"}],"mark":{"type":"text","font":"Lato","fontStyle":"italic","fontSize":10,"align":"center","baseline":"alphabetic","color":"#111"},"encoding":{"x":{"field":"x"},"y":{"field":"y"},"text":{"field":"t"}}},
{"data":{"name":"tC"},"transform":[{"filter":"datum.k=='Y'"}],"mark":{"type":"text","font":"Lato","fontSize":12,"align":"center","baseline":"middle","angle":270,"color":"#111"},"encoding":{"x":{"field":"x"},"y":{"field":"y"},"text":{"field":"t"}}},
{"data":{"name":"tC"},"transform":[{"filter":"datum.k=='E'"}],"mark":{"type":"text","font":"Lato","fontSize":16,"align":"center","baseline":"middle","color":"#111"},"encoding":{"x":{"field":"x"},"y":{"field":"y"},"text":{"field":"t"}}},
{"data":{"name":"triC"},"mark":{"type":"point","shape":"M-1,-0.5L1,-0.5L0,0.5Z","filled":true,"color":"#e2261b","size":500,"opacity":1},"encoding":{"x":{"field":"x"},"y":{"field":"y"}}}
]}
],"spacing":0,"bounds":"full","resolve":{"scale":{"fill":"independent","color":"independent","stroke":"independent"}}},
{"width":345,"height":594,
"encoding":{
"x":{"type":"quantitative","scale":{"domain":[-39.95,131.27],"nice":false,"zero":false},"axis":{"orient":"top","values":[20,40,60,80],"offset":-74.7,"domain":false,"grid":false,"tickSize":6,"tickColor":"#333","labelAngle":90,"labelAlign":"right","labelBaseline":"middle","labelFlush":false,"labelFontSize":16,"labelColor":"#111","labelPadding":6,"title":null}},
"y":{"type":"quantitative","scale":{"domain":[0,297],"nice":false,"zero":false,"reverse":true},"axis":null}
},
"layer":[
{"data":{"values":[{}]},"mark":{"type":"rect","opacity":0},"encoding":{"x":{"datum":-39.95},"x2":{"datum":131.27},"y":{"datum":0},"y2":{"datum":297}}},
{"data":{"name":"dB"},"mark":{"type":"rule","color":"#555","strokeWidth":1.2,"strokeDash":[5,4]},"encoding":{"x":{"field":"a"},"y":{"datum":37.35},"y2":{"datum":248.3}}},
{"data":{"values":[{}]},"mark":{"type":"rule","color":"#444","strokeWidth":1},"encoding":{"x":{"datum":-33.35},"x2":{"datum":105.1},"y":{"datum":37.35}}},
{"data":{"values":[{}]},"mark":{"type":"rule","color":"#333","strokeWidth":1},"encoding":{"x":{"datum":-33.35},"x2":{"datum":98.2},"y":{"datum":112.15}}},
{"data":{"values":[{}]},"mark":{"type":"rule","color":"#999","strokeWidth":1.5},"encoding":{"x":{"datum":-33.35},"x2":{"datum":99.2},"y":{"datum":193.85}}},
{"data":{"values":[{}]},"mark":{"type":"rule","color":"#444","strokeWidth":1},"encoding":{"x":{"datum":-39.9},"x2":{"datum":69.2},"y":{"datum":266.15}}},
{"data":{"name":"vB"},"mark":{"type":"area","interpolate":"monotone"},"encoding":{"x":{"field":"a"},"y":{"field":"lo"},"y2":{"field":"hi"},"fill":{"field":"g","type":"nominal","scale":{"domain":["IDH1","IDH2","IDHwt"],"range":["#aecde9","#4b3da4","#e9c6ec"]},"legend":null},"detail":{"field":"v"}}},
{"data":{"name":"bB"},"mark":{"type":"rule","color":"#444","strokeWidth":0.8},"encoding":{"x":{"field":"mn"},"x2":{"field":"mx"},"y":{"field":"yc"}}},
{"data":{"name":"bB"},"mark":{"type":"rule","color":"#000","strokeWidth":3.5},"encoding":{"x":{"field":"q1"},"x2":{"field":"q3"},"y":{"field":"yc"}}},
{"data":{"name":"bB"},"mark":{"type":"line","color":"#e8194b","strokeWidth":2.5},"encoding":{"x":{"field":"md"},"y":{"field":"yc"},"detail":{"field":"s"},"order":{"field":"r","type":"quantitative"}}},
{"data":{"name":"bB"},"mark":{"type":"point","filled":true,"color":"#555","size":45,"opacity":1},"encoding":{"x":{"field":"md"},"y":{"field":"yc"}}},
{"data":{"name":"lB"},"mark":{"type":"line","color":"#111","strokeWidth":1},"encoding":{"x":{"field":"x"},"y":{"field":"y"},"detail":{"field":"id"},"order":{"field":"o","type":"quantitative"}}},
{"data":{"name":"tB"},"transform":[{"filter":"datum.k=='L'"}],"mark":{"type":"text","font":"Lato","fontSize":21,"align":"left","baseline":"alphabetic","color":"#111"},"encoding":{"x":{"field":"x"},"y":{"field":"y"},"text":{"field":"t"}}},
{"data":{"name":"tB"},"transform":[{"filter":"datum.k=='T'"}],"mark":{"type":"text","font":"Lato","fontStyle":"italic","fontSize":18.5,"align":"left","baseline":"alphabetic","color":"#111"},"encoding":{"x":{"field":"x"},"y":{"field":"y"},"text":{"field":"t"}}},
{"data":{"name":"tB"},"transform":[{"filter":"datum.k=='A'"}],"mark":{"type":"text","font":"Lato","fontSize":14,"align":"left","baseline":"alphabetic","color":"#111"},"encoding":{"x":{"field":"x"},"y":{"field":"y"},"text":{"field":"t"}}},
{"data":{"name":"tB"},"transform":[{"filter":"datum.k=='S'"}],"mark":{"type":"text","font":"Lato","fontStyle":"italic","fontSize":17,"align":"left","baseline":"alphabetic","color":"#111"},"encoding":{"x":{"field":"x"},"y":{"field":"y"},"text":{"field":"t"}}},
{"data":{"name":"tB"},"transform":[{"filter":"datum.k=='W'"}],"mark":{"type":"text","font":"Lato","fontSize":18,"align":"left","baseline":"alphabetic","color":"#111"},"encoding":{"x":{"field":"x"},"y":{"field":"y"},"text":{"field":"t"}}},
{"data":{"name":"tB"},"transform":[{"filter":"datum.k=='R'"}],"mark":{"type":"text","font":"Lato","fontSize":11.5,"align":"center","baseline":"alphabetic","color":"#111"},"encoding":{"x":{"field":"x"},"y":{"field":"y"},"text":{"field":"t"}}},
{"data":{"name":"tB"},"transform":[{"filter":"datum.k=='H'"}],"mark":{"type":"text","font":"Lato","fontSize":17,"align":"center","baseline":"alphabetic","color":"#111"},"encoding":{"x":{"field":"x"},"y":{"field":"y"},"text":{"field":"t"}}},
{"data":{"name":"tB"},"transform":[{"filter":"datum.k=='Hi'"}],"mark":{"type":"text","font":"Lato","fontStyle":"italic","fontSize":13.5,"align":"center","baseline":"alphabetic","color":"#111"},"encoding":{"x":{"field":"x"},"y":{"field":"y"},"text":{"field":"t"}}},
{"data":{"name":"tB"},"transform":[{"filter":"datum.k=='Q'"}],"mark":{"type":"text","font":"Lato","fontStyle":"italic","fontSize":12.5,"align":"right","baseline":"alphabetic","color":"#111"},"encoding":{"x":{"field":"x"},"y":{"field":"y"},"text":{"field":"t"}}},
{"data":{"name":"tB"},"transform":[{"filter":"datum.k=='V'"}],"mark":{"type":"text","font":"Lato","fontStyle":"italic","fontSize":13,"align":"center","baseline":"alphabetic","color":"#111"},"encoding":{"x":{"field":"x"},"y":{"field":"y"},"text":{"field":"t"}}},
{"data":{"name":"triBr"},"mark":{"type":"point","shape":"M-1,-0.5L1,-0.5L0,0.5Z","filled":true,"color":"#e2261b","size":484,"opacity":1},"encoding":{"x":{"field":"x"},"y":{"field":"y"}}},
{"data":{"name":"triBg"},"mark":{"type":"point","shape":"M-1,0.5L1,0.5L0,-0.5Z","filled":true,"color":"#6cbd1c","size":484,"opacity":1},"encoding":{"x":{"field":"x"},"y":{"field":"y"}}}
]}
]
}
